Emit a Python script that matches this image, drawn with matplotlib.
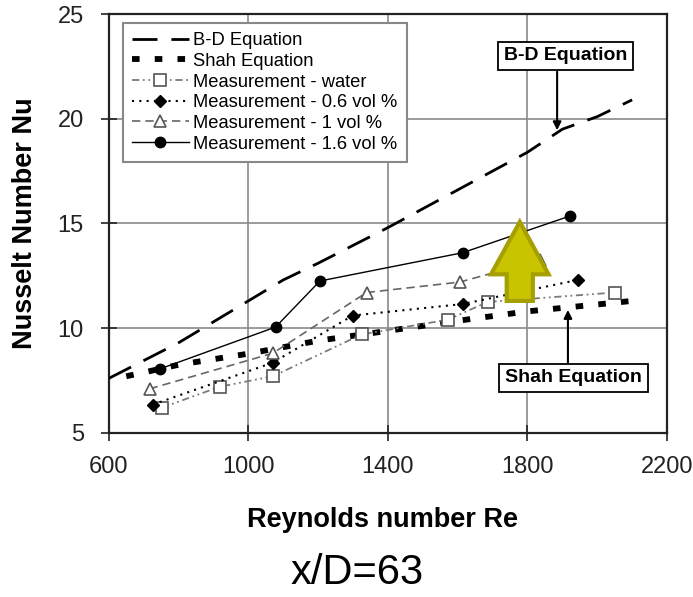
import numpy as np
import matplotlib
matplotlib.use("Agg")
import matplotlib.pyplot as plt
from matplotlib.patches import FancyArrow

plt.rcParams["font.family"] = ["Liberation Sans", "DejaVu Sans"]

# --- data ---
re_bd = [600, 800, 1000, 1100, 1200, 1400, 1600, 1800, 1900, 2000, 2100]
nu_bd = [7.6, 9.3, 11.3, 12.3, 13.1, 14.8, 16.6, 18.4, 19.5, 20.1, 20.9]

re_shah = [650, 800, 1000, 1200, 1400, 1600, 1800, 2000, 2100]
nu_shah = [7.7, 8.25, 8.78, 9.4, 9.87, 10.35, 10.8, 11.13, 11.3]

re_water = [752, 918, 1070, 1325, 1571, 1686, 2050]
nu_water = [6.2, 7.2, 7.7, 9.7, 10.4, 11.25, 11.7]

re_06 = [726, 1070, 1299, 1614, 1944]
nu_06 = [6.35, 8.35, 10.6, 11.15, 12.3]

re_1 = [717, 1070, 1339, 1606, 1835]
nu_1 = [7.1, 8.8, 11.7, 12.2, 13.25]

re_16 = [746, 1078, 1205, 1614, 1921]
nu_16 = [8.05, 10.05, 12.25, 13.6, 15.35]

xticks = [600, 1000, 1400, 1800, 2200]
yticks = [5, 10, 15, 20, 25]

fig = plt.figure(figsize=(6.93, 5.97), dpi=100)
ax = fig.add_axes([0.157, 0.275, 0.8055, 0.7015])

ax.plot(re_bd, nu_bd, color="black", lw=2.0, dashes=(9, 5), label="B-D Equation", zorder=3)
ax.plot(re_shah, nu_shah, color="black", lw=4.2, dashes=(1.3, 2.6), label="Shah Equation", zorder=3)
ax.plot(re_water, nu_water, color="#7a7a7a", lw=1.3, dashes=(4, 2, 1, 2, 1, 2),
        marker="s", ms=8, mfc="white", mec="#555555", mew=1.2,
        label="Measurement - water", zorder=4)
ax.plot(re_06, nu_06, color="black", lw=1.5, dashes=(1, 2.5),
        marker="D", ms=6.5, mfc="black", mec="black",
        label="Measurement - 0.6 vol %", zorder=4)
ax.plot(re_1, nu_1, color="#666666", lw=1.2, dashes=(5, 3),
        marker="^", ms=9, mfc="white", mec="#555555", mew=1.2,
        label="Measurement - 1 vol %", zorder=4)
ax.plot(re_16, nu_16, color="black", lw=1.0,
        marker="o", ms=7.5, mfc="black", mec="black",
        label="Measurement - 1.6 vol %", zorder=4)

ax.set_xlim(600, 2200)
ax.set_ylim(5, 25)
ax.set_xticks(xticks)
ax.set_yticks(yticks)
ax.grid(True, color="#8a8a8a", lw=1.2)
ax.set_axisbelow(True)
for s in ax.spines.values():
    s.set_linewidth(1.6)
    s.set_color("#222222")
ax.tick_params(direction="inout", length=12, width=1.2, labelsize=17,
               colors="#222222")
ax.tick_params(axis="x", pad=11)
ax.tick_params(axis="y", pad=12)

ax.set_xlabel("Reynolds number Re", fontsize=19.5, fontweight="bold")
ax.set_ylabel("Nusselt Number Nu", fontsize=19.5, fontweight="bold")
ax.xaxis.set_label_coords(0.49, -0.177)
ax.yaxis.set_label_coords(-0.127, 0.5)

leg = ax.legend(loc="upper left", bbox_to_anchor=(0.025, 0.9785), borderaxespad=0,
                fontsize=13.2, handlelength=3.1, handletextpad=0.25, labelspacing=0.2,
                fancybox=False, edgecolor="#888888", framealpha=1,
                borderpad=0.5)
leg.get_frame().set_linewidth(1.5)

# callout boxes and their arrows
box = dict(boxstyle="square,pad=0.3", fc="white", ec="black", lw=1.3)
arrow = dict(arrowstyle="-|>", color="black", lw=1.5, mutation_scale=12,
             shrinkA=0, shrinkB=0)
ax.text(1910, 23.0, "B-D Equation", ha="center", va="center", fontsize=14,
        fontweight="bold", bbox=box, zorder=7)
ax.annotate("", xy=(1885, 19.45), xytext=(1885, 22.25), arrowprops=arrow)
ax.text(1932, 7.62, "Shah Equation", ha="center", va="center", fontsize=14,
        fontweight="bold", bbox=box, zorder=7)
ax.annotate("", xy=(1916, 10.87), xytext=(1916, 8.35), arrowprops=arrow)

arr = FancyArrow(1778, 11.3, 0, 3.77, width=75, head_width=165, head_length=2.5,
                 length_includes_head=True, fc="#c9c400", ec="#a5a000", lw=3, zorder=6)
ax.add_patch(arr)

fig.text(0.515, 0.021, "x/D=63", ha="center", va="baseline", fontsize=30)

fig.savefig("out.png", dpi=100)
